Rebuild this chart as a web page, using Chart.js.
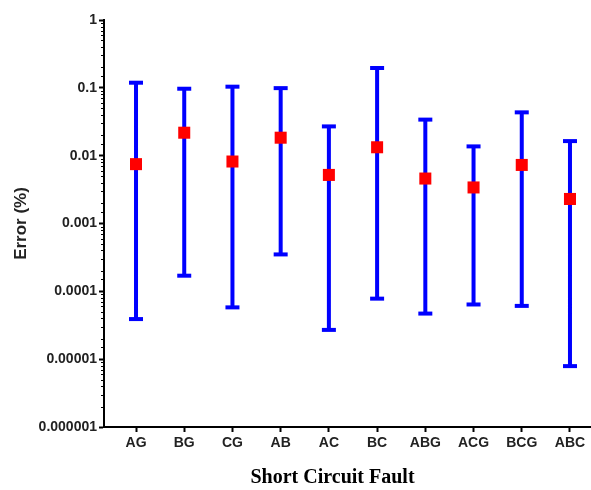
<!DOCTYPE html>
<html>
<head>
<meta charset="utf-8">
<script src="https://cdn.jsdelivr.net/npm/chart.js@4"></script>
<style>
  html, body { margin: 0; padding: 0; background: #fff; overflow: hidden; }
  #wrap { position: relative; width: 591px; height: 490px; }
  #chart { display: block; }
</style>
</head>
<body>
<div id="wrap"><canvas id="chart"></canvas></div>
<script>
const faults = ['AG', 'BG', 'CG', 'AB', 'AC', 'BC', 'ABG', 'ACG', 'BCG', 'ABC'];
const meanErr = [0.0075, 0.0218, 0.0082, 0.0184, 0.0052, 0.0133, 0.0046, 0.0034, 0.0073, 0.0023];
const minErr = [3.9e-5, 1.7e-4, 5.8e-5, 3.5e-4, 2.7e-5, 7.8e-5, 4.7e-5, 6.4e-5, 6.1e-5, 7.9e-6];
const maxErr = [0.119, 0.097, 0.104, 0.099, 0.027, 0.196, 0.034, 0.0137, 0.0435, 0.0164];
const yTicks = [1, 0.1, 0.01, 0.001, 0.0001, 0.00001, 0.000001];

const blue = '#0000ff';
const red = '#ff0000';
const sans = "'Liberation Sans', Arial, sans-serif";

// vertical whiskers, one segment per fault, broken by nulls
const whiskers = faults.flatMap((f, i) => [
  { x: i + 1, y: minErr[i] },
  { x: i + 1, y: maxErr[i] },
  { x: i + 1, y: null }
]);
const caps = faults.flatMap((f, i) => [
  { x: i + 1, y: minErr[i] },
  { x: i + 1, y: maxErr[i] }
]);
const means = faults.map((f, i) => ({ x: i + 1, y: meanErr[i] }));

const isDecade = v => Math.abs(Math.log10(v) - Math.round(Math.log10(v))) < 1e-9;

// short minor ticks on the log axis
const minorTicks = {
  id: 'minorTicks',
  afterDraw(chart) {
    const y = chart.scales.y;
    const ctx = chart.ctx;
    ctx.save();
    ctx.strokeStyle = '#000';
    ctx.lineWidth = 1;
    y.ticks.forEach(t => {
      if (isDecade(t.value)) return;
      const py = Math.round(y.getPixelForValue(t.value)) + 0.5;
      ctx.beginPath();
      ctx.moveTo(y.right - 3, py);
      ctx.lineTo(y.right + 1, py);
      ctx.stroke();
    });
    ctx.restore();
  }
};

new Chart(document.getElementById('chart'), {
  type: 'scatter',
  data: {
    datasets: [
      {
        label: 'Mean',
        data: means,
        pointStyle: 'rect',
        pointRadius: 8.5,
        pointHoverRadius: 8.5,
        backgroundColor: red,
        borderWidth: 0,
        showLine: false
      },
      {
        label: 'Caps',
        data: caps,
        pointStyle: 'line',
        pointRadius: 7,
        pointHoverRadius: 7,
        borderColor: blue,
        pointBorderWidth: 4,
        showLine: false
      },
      {
        label: 'Range',
        data: whiskers,
        showLine: true,
        spanGaps: false,
        borderColor: blue,
        borderWidth: 4,
        pointRadius: 0,
        pointHoverRadius: 0
      }
    ]
  },
  options: {
    responsive: true,
    maintainAspectRatio: false,
    animation: false,
    layout: { autoPadding: false, padding: { top: 20, right: 0, bottom: 0, left: 0 } },
    plugins: {
      legend: { display: false },
      tooltip: { enabled: false }
    },
    scales: {
      x: {
        type: 'linear',
        min: 0.336,
        max: 10.436,
        afterBuildTicks: scale => {
          scale.ticks = faults.map((f, i) => ({ value: i + 1 }));
        },
        afterFit: scale => {
          scale.height = 63;
          scale.paddingLeft = 0;
          scale.paddingRight = 0;
        },
        grid: { drawOnChartArea: false, tickLength: 5, tickWidth: 2, tickColor: '#000' },
        border: { color: '#000', width: 2 },
        ticks: {
          autoSkip: false,
          maxRotation: 0,
          padding: 3,
          color: '#222',
          font: { family: sans, size: 14, weight: 'bold' },
          callback: v => faults[Math.round(v) - 1]
        },
        title: {
          display: true,
          // trailing em/en spaces pull the centred title a little left, as in the original
          text: 'Short Circuit Fault\u2003\u2002',
          color: '#000',
          padding: { top: 0, bottom: 0 },
          font: { family: "'Liberation Serif', 'Times New Roman', serif", size: 20, weight: 'bold' }
        }
      },
      y: {
        type: 'logarithmic',
        min: 0.000001,
        max: 1,
        afterFit: scale => { scale.width = 104; },
        grid: {
          drawOnChartArea: false,
          tickLength: 5,
          tickWidth: 2,
          tickColor: ctx => (ctx.tick && isDecade(ctx.tick.value)) ? '#000' : 'rgba(0,0,0,0)'
        },
        border: { color: '#000', width: 2 },
        ticks: {
          autoSkip: false,
          padding: 2,
          color: '#222',
          font: { family: sans, size: 14, weight: 'bold' },
          callback: v => {
            if (!isDecade(v)) return '';
            const p = -Math.round(Math.log10(v));
            const label = yTicks.find(t => Math.round(-Math.log10(t)) === p);
            return p <= 0 ? '1' : label.toFixed(p);
          }
        },
        title: {
          display: true,
          text: 'Error (%)',
          color: '#222',
          padding: { top: 11, bottom: 0 },
          font: { family: sans, size: 17, weight: 'bold' }
        }
      }
    }
  },
  plugins: [minorTicks]
});
</script>
</body>
</html>
